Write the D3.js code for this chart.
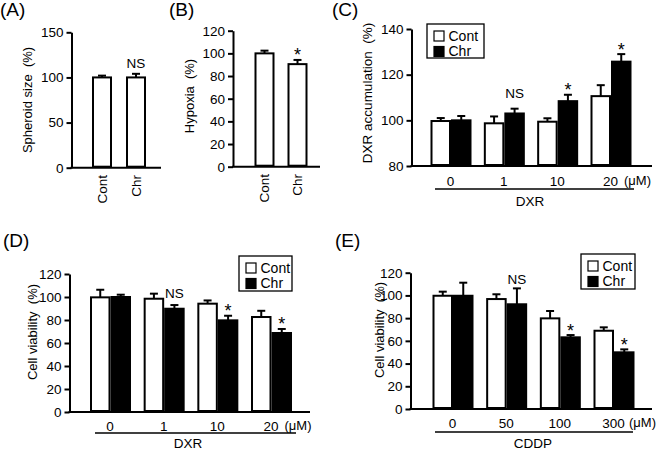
<!DOCTYPE html>
<html><head><meta charset="utf-8">
<script src="https://cdn.jsdelivr.net/npm/d3@7"></script>
<style>
body{margin:0;background:#fff}
svg{display:block}
text{font-family:"Liberation Sans",Arial,sans-serif;fill:#000}
</style>
</head><body>
<svg id="chart" width="656" height="451"></svg>
<script>
// ---------------- DATA ----------------
const seriesNames = ["Cont", "Chr"];

// (A) Spheroid size
const aCategories = ["Cont", "Chr"];
const aValues = [100, 100];
const aErrors = [2, 4];
const aMarks = ["", "NS"];
const aTicks = [0, 50, 100, 150];

// (B) Hypoxia
const bCategories = ["Cont", "Chr"];
const bValues = [100, 90.5];
const bErrors = [2.4, 3.7];
const bMarks = ["", "*"];
const bTicks = [0, 20, 40, 60, 80, 100, 120];

// (C) DXR accumulation
const cDoses = ["0", "1", "10", "20"];
const cCont = [99.7, 98.7, 99.4, 110.6];
const cContErr = [1.3, 3.0, 1.5, 4.8];
const cChr = [100, 103, 108.4, 125.7];
const cChrErr = [1.9, 2.1, 2.8, 3.3];
const cMarks = ["", "NS", "*", "*"];
const cTicks = [80, 100, 120, 140];

// (D) Cell viability, DXR
const dDoses = ["0", "1", "10", "20"];
const dCont = [99.7, 98.5, 94.2, 82.6];
const dContErr = [6.6, 4.4, 2.8, 5.4];
const dChr = [100, 89.8, 79.7, 68.7];
const dChrErr = [2.0, 3.2, 4.0, 3.5];
const dMarks = ["", "NS", "*", "*"];
const dTicks = [0, 20, 40, 60, 80, 100, 120];

// (E) Cell viability, CDDP
const eDoses = ["0", "50", "100", "300"];
const eCont = [99.7, 96.8, 79.8, 68.9];
const eContErr = [3.6, 4.2, 6.5, 3.0];
const eChr = [99.7, 92.2, 63.1, 49.9];
const eChrErr = [11.5, 14.0, 2.0, 2.6];
const eMarks = ["", "NS", "*", "*"];
const eTicks = [0, 20, 40, 60, 80, 100, 120];

// ---------------- DRAWING ----------------
const svg = d3.select("#chart");
const FS = 13.5;

function styleAxis(sel) {
  sel.select(".domain").attr("stroke", "#000").attr("stroke-width", 2);
  sel.selectAll(".tick line").attr("stroke", "#000").attr("stroke-width", 2);
  sel.selectAll(".tick text").attr("font-size", FS).attr("fill", "#000")
    .style("font-family", '"Liberation Sans",Arial,sans-serif');
}

function drawYAxis(g, y, cfg, ticks) {
  const ax = g.append("g").attr("transform", `translate(${cfg.axisX},0)`)
    .call(d3.axisLeft(y).tickValues(ticks).tickSize(5).tickSizeOuter(0).tickPadding(3).tickFormat(d3.format("d")));
  styleAxis(ax);
  g.append("line")
    .attr("x1", cfg.axisX - 1).attr("x2", cfg.xEnd)
    .attr("y1", y(y.domain()[0])).attr("y2", y(y.domain()[0]))
    .attr("stroke", "#000").attr("stroke-width", 2);
  g.append("text")
    .attr("transform", `translate(${cfg.titleX},${cfg.titleY}) rotate(-90)`)
    .attr("text-anchor", "middle").attr("font-size", cfg.titleSize || 13)
    .style("white-space", "pre")
    .text(cfg.title);
  g.append("text").attr("x", cfg.labelX).attr("y", cfg.labelY)
    .attr("font-size", 19).text(cfg.label);
}

function drawMark(g, txt, x, yTop, cfg) {
  if (!txt) return;
  const star = txt === "*";
  g.append("text").attr("x", x).attr("y", star ? yTop + 1.5 : yTop - cfg.nsGap)
    .attr("text-anchor", "middle")
    .attr("font-size", star ? 18 : FS)
    .text(txt);
}

function errBar(g, cx, yv, ye, half) {
  g.append("line").attr("x1", cx).attr("x2", cx).attr("y1", yv).attr("y2", ye)
    .attr("stroke", "#000").attr("stroke-width", 2);
  g.append("line").attr("x1", cx - half).attr("x2", cx + half).attr("y1", ye).attr("y2", ye)
    .attr("stroke", "#000").attr("stroke-width", 2);
}

// Simple two-bar panels (A, B)
function simplePanel(cfg, cats, vals, errs, marks, ticks) {
  const g = svg.append("g");
  const y = d3.scaleLinear().domain(cfg.domain).range(cfg.yRange);
  const x = d3.scalePoint().domain(cats).range(cfg.xRange).padding(0.5);
  const bw = 18;
  const data = cats.map((c, i) => ({c, v: vals[i], e: errs[i], m: marks[i]}));
  data.forEach(d => errBar(g, x(d.c), y(d.v), y(d.v + d.e), 4));
  g.selectAll("rect.bar").data(data).join("rect")
    .attr("x", d => x(d.c) - bw / 2).attr("width", bw)
    .attr("y", d => y(d.v)).attr("height", d => y(cfg.domain[0]) - y(d.v) - 1)
    .attr("fill", "#fff").attr("stroke", "#000").attr("stroke-width", 2);
  drawYAxis(g, y, cfg, ticks);
  data.forEach(d => {
    g.append("text")
      .attr("transform", `translate(${x(d.c)},${cfg.catY}) rotate(-90)`)
      .attr("text-anchor", "end").attr("dy", "0.35em").attr("font-size", FS)
      .text(d.c);
    drawMark(g, d.m, x(d.c), y(d.v + d.e), cfg);
  });
}

// Grouped panels (C, D, E)
function groupedPanel(cfg, doses, cont, contErr, chr, chrErr, marks, ticks) {
  const g = svg.append("g");
  const y = d3.scaleLinear().domain(cfg.domain).range(cfg.yRange);
  const x0 = d3.scalePoint().domain(doses).range(cfg.xRange);
  const x1 = d3.scaleBand().domain(seriesNames).range([-19.5, 21.5]);
  const bw = x1.bandwidth();
  const rows = [];
  doses.forEach((d, i) => {
    rows.push({dose: d, s: "Cont", v: cont[i], e: contErr[i]});
    rows.push({dose: d, s: "Chr", v: chr[i], e: chrErr[i]});
  });
  rows.forEach(r => {
    const cx = x0(r.dose) + x1(r.s) + bw / 2;
    errBar(g, cx, y(r.v), y(r.v + r.e), 4);
  });
  g.selectAll("rect.bar").data(rows).join("rect")
    .attr("x", r => x0(r.dose) + x1(r.s) + 1).attr("width", bw - 2)
    .attr("y", r => y(r.v)).attr("height", r => y(cfg.domain[0]) - y(r.v) - 1)
    .attr("fill", r => r.s === "Cont" ? "#fff" : "#000")
    .attr("stroke", "#000").attr("stroke-width", 2);
  drawYAxis(g, y, cfg, ticks);
  // x category labels
  const base = y(cfg.domain[0]);
  const xa = g.append("g").attr("transform", `translate(0,${base})`)
    .call(d3.axisBottom(x0).tickSize(0).tickPadding(cfg.catPad));
  xa.select(".domain").remove();
  styleAxis(xa);
  g.append("text").attr("x", x0(doses[doses.length - 1]) + cfg.umOff).attr("y", base + cfg.catPad)
    .attr("dy", "0.71em").attr("font-size", 13).text("(\u03bcM)");
  // underline and drug name
  g.append("line").attr("x1", cfg.ulX[0]).attr("x2", cfg.ulX[1])
    .attr("y1", cfg.ulY).attr("y2", cfg.ulY).attr("stroke", "#000").attr("stroke-width", 1.3);
  g.append("text").attr("x", cfg.drugX).attr("y", cfg.ulY + cfg.drugDy)
    .attr("text-anchor", "middle").attr("font-size", FS).text(cfg.drug);
  // significance marks
  marks.forEach((m, i) => {
    const cx = x0(doses[i]) + x1("Chr") + bw / 2;
    drawMark(g, m, cx, y(chr[i] + chrErr[i]), cfg);
  });
  // legend
  const L = cfg.legend;
  g.append("rect").attr("x", L.x).attr("y", L.y).attr("width", L.w).attr("height", L.h)
    .attr("fill", "#fff").attr("stroke", "#000").attr("stroke-width", 1.3);
  seriesNames.forEach((s, i) => {
    g.append("rect").attr("x", L.x + 7).attr("y", L.y + 7 + i * 15.5).attr("width", 10).attr("height", 10)
      .attr("fill", s === "Cont" ? "#fff" : "#000").attr("stroke", "#000").attr("stroke-width", 1.2);
    g.append("text").attr("x", L.x + 21.5).attr("y", L.y + 16.5 + i * 15.5)
      .attr("font-size", 14).text(s);
  });
}

simplePanel({domain: [0, 150], yRange: [167.7, 32.3], xRange: [85, 153], axisX: 71.5, xEnd: 161,
  title: "Spheroid size  (%)", titleX: 32, titleY: 100, label: "(A)", labelX: 0, labelY: 16,
  catY: 175, nsGap: 6}, aCategories, aValues, aErrors, aMarks, aTicks);

simplePanel({domain: [0, 120], yRange: [166.7, 30.7], xRange: [248, 314], axisX: 233, xEnd: 320,
  title: "Hypoxia  (%)", titleX: 194, titleY: 96, label: "(B)", labelX: 169, labelY: 16,
  catY: 174, nsGap: 6}, bCategories, bValues, bErrors, bMarks, bTicks);

groupedPanel({domain: [80, 140], yRange: [166, 29], xRange: [450, 610], axisX: 411.5, xEnd: 652,
  title: "DXR accumulation  (%)", titleX: 372, titleY: 93, titleSize: 13.5, label: "(C)", labelX: 332, labelY: 16,
  catPad: 10, umOff: 14, ulX: [435, 634], ulY: 189, drug: "DXR", drugX: 530, drugDy: 17, nsGap: 11,
  legend: {x: 427, y: 24, w: 57, h: 34}}, cDoses, cCont, cContErr, cChr, cChrErr, cMarks, cTicks);

groupedPanel({domain: [0, 120], yRange: [412, 274], xRange: [109.5, 270.5], axisX: 69.5, xEnd: 310,
  title: "Cell viability  (%)", titleX: 37, titleY: 332, label: "(D)", labelX: 3, labelY: 247,
  catPad: 9, umOff: 14, ulX: [95, 296], ulY: 433, drug: "DXR", drugX: 188, drugDy: 15, nsGap: 7.5,
  legend: {x: 239, y: 256, w: 53, h: 35}}, dDoses, dCont, dContErr, dChr, dChrErr, dMarks, dTicks);

groupedPanel({domain: [0, 120], yRange: [409, 272.7], xRange: [452, 613], axisX: 410.5, xEnd: 652,
  title: "Cell viability  (%)", titleX: 384, titleY: 330, label: "(E)", labelX: 335, labelY: 247,
  catPad: 9, umOff: 16, ulX: [435, 633], ulY: 432, drug: "CDDP", drugX: 533, drugDy: 16, nsGap: 4,
  legend: {x: 581, y: 254, w: 54, h: 35}}, eDoses, eCont, eContErr, eChr, eChrErr, eMarks, eTicks);
</script>
</body></html>
